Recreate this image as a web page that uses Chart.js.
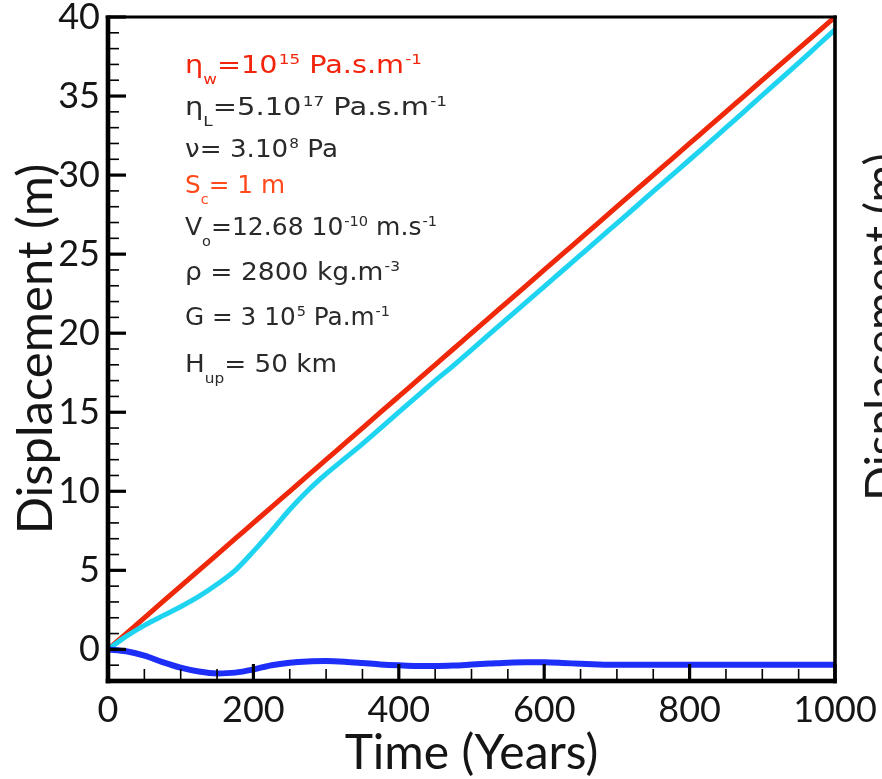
<!DOCTYPE html>
<html>
<head>
<meta charset="utf-8">
<script src="https://cdn.jsdelivr.net/npm/chart.js@4.4.1/dist/chart.umd.min.js"></script>
<style>
  html, body { margin: 0; padding: 0; background: #ffffff; }
  #wrap { width: 882px; height: 779px; }
</style>
</head>
<body>
<div id="wrap"><canvas id="c" width="882" height="779"></canvas></div>
<script>
// Time axis (years) and the three displacement histories (m)
const years = [0, 25, 50, 75, 100, 125, 150, 175, 200, 225, 250, 275, 300, 325, 350, 375, 400,
  425, 450, 475, 500, 525, 550, 575, 600, 625, 650, 675, 700, 725, 750, 775, 800, 825, 850,
  875, 900, 925, 950, 975, 1000];

const redLine = [0, 1, 2, 3, 4, 5, 6, 7, 8, 9, 10, 11, 12, 13, 14, 15, 16,
  17, 18, 19, 20, 21, 22, 23, 24, 25, 26, 27, 28, 29, 30, 31, 32, 33, 34,
  35, 36, 37, 38, 39, 40];

const cyanLine = [0, 0.82, 1.52, 2.12, 2.7, 3.35, 4.12, 5.0, 6.2, 7.5, 8.85, 10.05, 11.1, 12.05, 13.0, 14.0, 15.0,
  16.0, 17.0, 17.95, 18.95, 19.95, 20.95, 21.95, 22.95, 23.95, 24.95, 25.95, 26.95, 27.95, 28.97, 29.97, 30.97, 31.98, 33.0,
  34.02, 35.05, 36.07, 37.1, 38.15, 39.2];

const blueLine = [0, -0.12, -0.4, -0.8, -1.15, -1.4, -1.52, -1.47, -1.27, -1.0, -0.84, -0.76, -0.74, -0.78, -0.86, -0.95, -1.01,
  -1.05, -1.05, -1.02, -0.96, -0.9, -0.84, -0.81, -0.82, -0.86, -0.91, -0.95, -0.97, -0.97, -0.97, -0.97, -0.97, -0.97, -0.97,
  -0.97, -0.97, -0.97, -0.97, -0.97, -0.97];

// Labelled tick values
const xTickLabels = [0, 200, 400, 600, 800, 1000];
const yTickLabels = [0, 5, 10, 15, 20, 25, 30, 35, 40];

// Parameter notes: [text, 'sub' | 'sup' | '']
const noteLines = [
  [['η', ''], ['w', 'sub'], ['=10', ''], ['15', 'sup'], [' Pa.s.m', ''], ['-1', 'sup']],
  [['η', ''], ['L', 'sub'], ['=5.10', ''], ['17', 'sup'], [' Pa.s.m', ''], ['-1', 'sup']],
  [['ν= 3.10', ''], ['8', 'sup'], [' Pa', '']],
  [['S', ''], ['c', 'sub'], ['= 1 m', '']],
  [['V', ''], ['o', 'sub'], ['=12.68 10', ''], ['-10', 'sup'], [' m.s', ''], ['-1', 'sup']],
  [['ρ = 2800 kg.m', ''], ['-3', 'sup']],
  [['G = 3 10', ''], ['5', 'sup'], [' Pa.m', ''], ['-1', 'sup']],
  [['H', ''], ['up', 'sub'], ['= 50 km', '']]
];

// Layout of the note block: baseline y, right end x, colour
const noteLayout = [
  { base: 73, end: 422, color: '#f2250c' },
  { base: 115, end: 447, color: '#2a2a2a' },
  { base: 157, end: 338, color: '#2a2a2a' },
  { base: 193, end: 285, color: '#ff4a1c' },
  { base: 235, end: 437, color: '#2a2a2a' },
  { base: 280, end: 400, color: '#2a2a2a' },
  { base: 325, end: 390, color: '#2a2a2a' },
  { base: 372, end: 337, color: '#2a2a2a' }
];

const toPoints = (vals) => years.map((t, i) => ({ x: t, y: vals[i] }));

// Frame plus inward major/minor tick marks on the left and bottom axes
const frameTicks = {
  id: 'frameTicks',
  afterDatasetsDraw(chart) {
    const { ctx, chartArea } = chart;
    const { left, right, top, bottom } = chartArea;
    const xs = chart.scales.x, ys = chart.scales.y;
    ctx.save();
    ctx.strokeStyle = '#000';
    ctx.lineCap = 'butt';
    // y minor ticks every 1 m
    ctx.lineWidth = 1.6;
    for (let v = Math.ceil(ys.min); v <= ys.max; v++) {
      if (yTickLabels.includes(v)) continue;
      const y = ys.getPixelForValue(v);
      ctx.beginPath(); ctx.moveTo(left, y); ctx.lineTo(left + 11, y); ctx.stroke();
    }
    // y major ticks
    ctx.lineWidth = 3.2;
    yTickLabels.forEach(v => {
      const y = ys.getPixelForValue(v);
      ctx.beginPath(); ctx.moveTo(left, y); ctx.lineTo(left + 18, y); ctx.stroke();
    });
    // x minor ticks every 50 years
    ctx.lineWidth = 1.6;
    for (let v = xs.min + 50; v < xs.max; v += 50) {
      if (xTickLabels.includes(v)) continue;
      const x = xs.getPixelForValue(v);
      ctx.beginPath(); ctx.moveTo(x, bottom); ctx.lineTo(x, bottom - 12); ctx.stroke();
    }
    // x major ticks
    ctx.lineWidth = 3.2;
    xTickLabels.forEach(v => {
      const x = xs.getPixelForValue(v);
      ctx.beginPath(); ctx.moveTo(x, bottom); ctx.lineTo(x, bottom - 17); ctx.stroke();
    });
    // frame
    ctx.fillStyle = '#000';
    ctx.fillRect(left - 2.3, top - 1.5, 4.6, bottom - top + 3.8);   // left
    ctx.fillRect(left - 2.3, bottom - 2.3, right - left + 4.1, 4.6); // bottom
    ctx.fillRect(left - 2.3, top - 1.5, right - left + 4.1, 3);      // top
    ctx.fillRect(right - 1.8, top - 1.5, 3.6, bottom - top + 3.8);   // right
    ctx.restore();
  }
};

// Parameter notes and the neighbouring panel's axis title at the right edge
const notes = {
  id: 'notes',
  afterDraw(chart) {
    const ctx = chart.ctx;
    const mainFont = '24px "DejaVu Sans"';
    const smallFont = '14px "DejaVu Sans"';
    const x0 = 185;
    ctx.save();
    ctx.textBaseline = 'alphabetic';
    ctx.textAlign = 'left';
    noteLines.forEach((parts, i) => {
      const lay = noteLayout[i];
      let natural = 0;
      parts.forEach(([txt, kind]) => {
        ctx.font = kind ? smallFont : mainFont;
        natural += ctx.measureText(txt).width + (kind === 'sup' ? 1 : 0);
      });
      const sx = (lay.end - x0) / natural;
      ctx.save();
      ctx.translate(x0, lay.base);
      ctx.scale(sx, 1);
      ctx.fillStyle = lay.color;
      let cx = 0;
      parts.forEach(([txt, kind]) => {
        ctx.font = kind ? smallFont : mainFont;
        let dy = 0;
        if (kind === 'sub') dy = 11;
        if (kind === 'sup') { dy = -9; cx += 1; }
        ctx.fillText(txt, cx, dy);
        cx += ctx.measureText(txt).width;
      });
      ctx.restore();
    });

    ctx.fillStyle = '#1a1a1a';
    ctx.font = '46px Lato';
    ctx.translate(898, 327);
    ctx.rotate(-Math.PI / 2);
    ctx.textAlign = 'center';
    ctx.fillText('Displacement (m)', 0, 0);
    ctx.restore();
  }
};

new Chart(document.getElementById('c'), {
  type: 'line',
  data: {
    datasets: [
      { data: toPoints(blueLine), borderColor: '#1c2ef8', borderWidth: 6, pointRadius: 0, cubicInterpolationMode: 'monotone', fill: false },
      { data: toPoints(cyanLine), borderColor: '#1ed4f0', borderWidth: 5, pointRadius: 0, cubicInterpolationMode: 'monotone', fill: false },
      { data: toPoints(redLine), borderColor: '#f0280a', borderWidth: 5, pointRadius: 0, cubicInterpolationMode: 'monotone', fill: false }
    ]
  },
  options: {
    responsive: false,
    animation: false,
    events: [],
    layout: { padding: { top: 17, right: 47, left: 0, bottom: 0 } },
    plugins: { legend: { display: false }, tooltip: { enabled: false } },
    scales: {
      x: {
        type: 'linear', min: 0, max: 1000,
        grid: { display: false, drawTicks: false },
        border: { display: false },
        afterBuildTicks: s => { s.ticks = xTickLabels.map(v => ({ value: v })); },
        afterFit: s => { s.height = 98; s.paddingLeft = 0; s.paddingRight = 0; },
        ticks: { font: { family: 'Lato', size: 36 }, color: '#151515', padding: 8, maxRotation: 0, autoSkip: false,
                 callback: v => String(v) },
        title: { display: true, text: 'Time (Years)', color: '#151515',
                 font: { family: 'Lato', size: 48, lineHeight: 1 }, padding: { top: 0, bottom: 1 } }
      },
      y: {
        type: 'linear', min: -2, max: 40,
        grid: { display: false, drawTicks: false },
        border: { display: false },
        afterBuildTicks: s => { s.ticks = yTickLabels.map(v => ({ value: v })); },
        afterFit: s => { s.width = 108; s.paddingTop = 0; s.paddingBottom = 0; },
        ticks: { font: { family: 'Lato', size: 36 }, color: '#151515', padding: 8, autoSkip: false,
                 callback: v => String(v) },
        title: { display: true, text: 'Displacement (m)', color: '#151515',
                 font: { family: 'Lato', size: 49, lineHeight: 1 }, padding: { top: 12, bottom: 0 } }
      }
    }
  },
  plugins: [frameTicks, notes]
});
</script>
</body>
</html>
